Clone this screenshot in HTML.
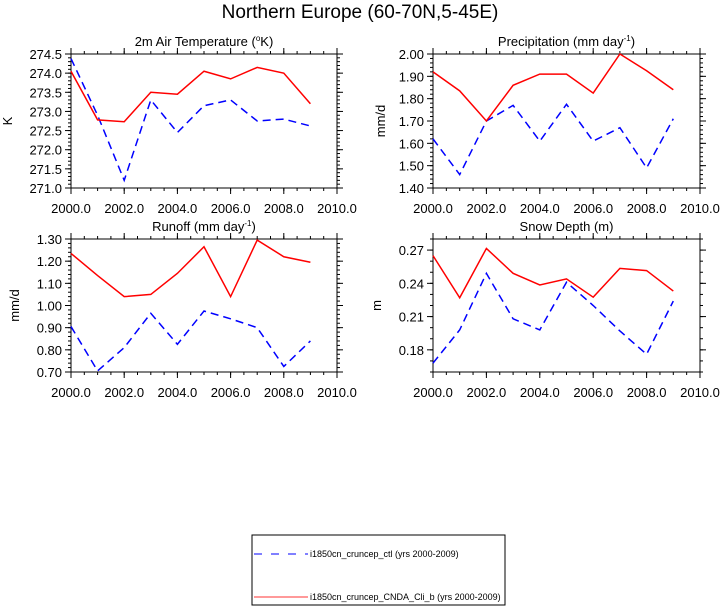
<!DOCTYPE html>
<html><head><meta charset="utf-8"><style>
body{margin:0;background:#fff;}
svg{display:block;font-family:"Liberation Sans",sans-serif;}
</style></head><body>
<svg id="c" width="721" height="608">
<text x="360" y="18" text-anchor="middle" font-size="19">Northern Europe (60-70N,5-45E)</text>
<g>
<rect x="252" y="535" width="253" height="70" fill="none" stroke="#000" stroke-width="1"/>
<line x1="254" y1="554" x2="308" y2="554" stroke="#00f" stroke-width="1" stroke-dasharray="8,9"/>
<text x="310" y="557" font-size="9">i1850cn_cruncep_ctl (yrs 2000-2009)</text>
<line x1="254" y1="597" x2="308" y2="597" stroke="#f33" stroke-width="1"/>
<text x="310" y="600" font-size="9">i1850cn_cruncep_CNDA_Cli_b (yrs 2000-2009)</text>
</g>
</svg>
<script>
const years=[2000,2001,2002,2003,2004,2005,2006,2007,2008,2009];
const xTicks=[2000,2002,2004,2006,2008,2010];
const tempRed=[274.05,272.78,272.73,273.5,273.45,274.05,273.85,274.15,274.0,273.2];
const tempBlue=[274.38,272.9,271.2,273.3,272.45,273.15,273.3,272.75,272.8,272.62];
const precRed=[1.92,1.835,1.70,1.86,1.91,1.91,1.825,2.00,1.925,1.84];
const precBlue=[1.62,1.46,1.70,1.77,1.61,1.775,1.61,1.67,1.49,1.71];
const runRed=[1.235,1.135,1.04,1.05,1.145,1.265,1.04,1.295,1.22,1.195];
const runBlue=[0.905,0.705,0.81,0.965,0.825,0.975,0.94,0.90,0.725,0.84];
const snowRed=[0.265,0.227,0.2715,0.249,0.2385,0.244,0.2275,0.2535,0.2515,0.233];
const snowBlue=[0.168,0.198,0.249,0.208,0.198,0.241,0.22,0.197,0.176,0.224];
const tempTicks=[271.0,271.5,272.0,272.5,273.0,273.5,274.0,274.5];
const precTicks=[1.40,1.50,1.60,1.70,1.80,1.90,2.00];
const runTicks=[0.70,0.80,0.90,1.00,1.10,1.20,1.30];
const snowTicks=[0.18,0.21,0.24,0.27];
const svg=document.getElementById('c');
const NS='http://www.w3.org/2000/svg';
function mk(tag,at,parent){const e=document.createElementNS(NS,tag);for(const k in at)e.setAttribute(k,at[k]);(parent||svg).appendChild(e);return e;}
function panel(o){
 const g=mk('g',{});
 
 
 const X=v=>o.x0+(v-2000)/10*(o.x1-o.x0);
 const Y=v=>o.y1-(v-o.ymin)/(o.ymax-o.ymin)*(o.y1-o.y0);
 const fr=mk('rect',{x:o.x0,y:o.y0,width:o.x1-o.x0,height:o.y1-o.y0,fill:'none',stroke:'#000','stroke-width':1},g);
 
 
 const t=mk('text',{x:(o.x0+o.x1)/2,y:o.y0-8,'text-anchor':'middle','font-size':13},g);
 t.innerHTML=o.title;
 
 
 for(let v=o.ymin;v<=o.ymax+1e-9;v+=o.minor){
  const y=Y(v);
  mk('line',{x1:o.x0-3,y1:y,x2:o.x0,y2:y,stroke:'#000'},g);
  mk('line',{x1:o.x1,y1:y,x2:o.x1+3,y2:y,stroke:'#000'},g);
 }
 o.ticks.forEach(v=>{
  const y=Y(v);
  mk('line',{x1:o.x0-6,y1:y,x2:o.x0,y2:y,stroke:'#000'},g);
  mk('line',{x1:o.x1,y1:y,x2:o.x1+6,y2:y,stroke:'#000'},g);
  const l=mk('text',{x:o.x0-9,y:y+5,'text-anchor':'end','font-size':13},g);
  l.textContent=v.toFixed(o.dec);
  
  
 });
 for(let v=2000;v<=2010.001;v+=0.5){
  const x=X(v);
  mk('line',{x1:x,y1:o.y1,x2:x,y2:o.y1+3,stroke:'#000'},g);
  mk('line',{x1:x,y1:o.y0-3,x2:x,y2:o.y0,stroke:'#000'},g);
 }
 xTicks.forEach(v=>{
  const x=X(v);
  mk('line',{x1:x,y1:o.y1,x2:x,y2:o.y1+6,stroke:'#000'},g);
  mk('line',{x1:x,y1:o.y0-6,x2:x,y2:o.y0,stroke:'#000'},g);
  const l=mk('text',{x:x,y:o.y1+25,'text-anchor':'middle','font-size':13},g);
  l.textContent=v.toFixed(1);
  
  
 });
 const yl=mk('text',{x:0,y:0,'text-anchor':'middle','font-size':13,transform:`translate(${o.ylx},${(o.y0+o.y1)/2}) rotate(-90)`},g);
 yl.textContent=o.ylab;
 
 
 const pb=mk('polyline',{points:years.map((yr,i)=>X(yr)+','+Y(o.blue[i])).join(' '),fill:'none',stroke:'#00f','stroke-width':1.5,'stroke-dasharray':'8,5'},g);
 
 
 const pr=mk('polyline',{points:years.map((yr,i)=>X(yr)+','+Y(o.red[i])).join(' '),fill:'none',stroke:'#f00','stroke-width':1.5},g);
 
 
}
panel({name:'temperature-panel',x0:71,x1:337,y0:54,y1:188,ymin:271,ymax:274.5,ticks:tempTicks,minor:0.1,dec:1,ylx:12,title:'2m Air Temperature (<tspan font-size="8" dy="-5">o</tspan><tspan dy="5">K)</tspan>',ylab:'K',red:tempRed,blue:tempBlue});
panel({name:'precipitation-panel',x0:433,x1:700,y0:54,y1:188,ymin:1.4,ymax:2.0,ticks:precTicks,minor:0.02,dec:2,ylx:385,title:'Precipitation (mm day<tspan font-size="8" dy="-5">-1</tspan><tspan dy="5">)</tspan>',ylab:'mm/d',red:precRed,blue:precBlue});
panel({name:'runoff-panel',x0:71,x1:337,y0:239,y1:372,ymin:0.7,ymax:1.3,ticks:runTicks,minor:0.02,dec:2,ylx:19,title:'Runoff (mm day<tspan font-size="8" dy="-5">-1</tspan><tspan dy="5">)</tspan>',ylab:'mm/d',red:runRed,blue:runBlue});
panel({name:'snow-depth-panel',x0:433,x1:700,y0:239,y1:372,ymin:0.16,ymax:0.28,ticks:snowTicks,minor:0.01,dec:2,ylx:381,title:'Snow Depth (m)',ylab:'m',red:snowRed,blue:snowBlue});
</script>
</body></html>
